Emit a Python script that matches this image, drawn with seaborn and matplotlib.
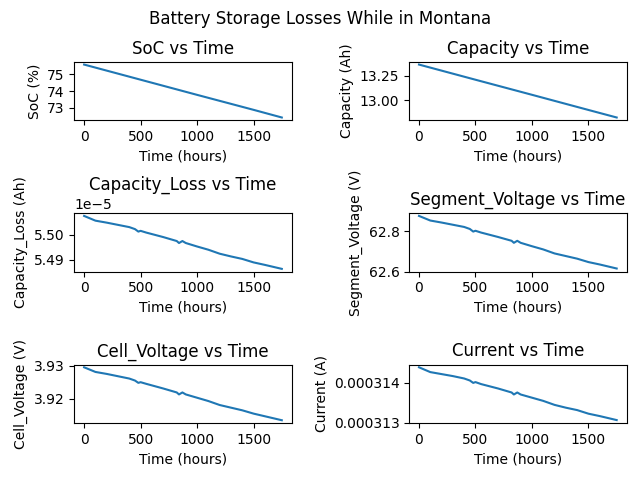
import matplotlib
matplotlib.use("Agg")
import matplotlib.pyplot as plt
import seaborn as sns
import pandas as pd

# Time points (hours)
hours = [0, 100, 200, 300, 400, 450, 480, 500, 550, 700, 820, 840, 870, 900,
         1000, 1100, 1200, 1300, 1400, 1500, 1600, 1750]

# SoC and capacity fall in straight lines, so a coarse grid is enough
linear_hours = [0, 500, 1000, 1500, 1750]
soc = [75.59, 74.68, 73.77, 72.87, 72.41]
capacity = [13.363, 13.208, 13.054, 12.899, 12.822]

capacity_loss = [5.5076e-5, 5.5057e-5, 5.5049e-5, 5.5040e-5, 5.5031e-5, 5.5023e-5,
                 5.5013e-5, 5.5016e-5, 5.5009e-5, 5.4991e-5, 5.4975e-5, 5.4967e-5,
                 5.4975e-5, 5.4967e-5, 5.4953e-5, 5.4940e-5, 5.4924e-5, 5.4913e-5,
                 5.4903e-5, 5.4889e-5, 5.4879e-5, 5.4863e-5]
segment_voltage = [62.877, 62.854, 62.844, 62.833, 62.822, 62.812, 62.799, 62.803,
                   62.794, 62.772, 62.753, 62.743, 62.753, 62.743, 62.726, 62.710,
                   62.690, 62.677, 62.664, 62.647, 62.635, 62.615]
cell_voltage = [3.9295, 3.9281, 3.9275, 3.9268, 3.9261, 3.9255, 3.9248, 3.9250,
                3.9245, 3.9231, 3.9219, 3.9213, 3.9219, 3.9213, 3.9203, 3.9193,
                3.9181, 3.9173, 3.9165, 3.9155, 3.9147, 3.9135]
current = [0.00031439, 0.00031427, 0.00031422, 0.00031417, 0.00031411, 0.00031406,
           0.00031400, 0.00031402, 0.00031397, 0.00031386, 0.00031376, 0.00031371,
           0.00031376, 0.00031371, 0.00031363, 0.00031355, 0.00031345, 0.00031338,
           0.00031332, 0.00031323, 0.00031317, 0.00031307]

# y tick values shown in the reference
soc_ticks = [73, 74, 75]
capacity_ticks = [13.00, 13.25]
loss_ticks = [5.49e-5, 5.50e-5]
segment_ticks = [62.6, 62.8]
cell_ticks = [3.92, 3.93]
current_ticks = [0.000313, 0.000314]

panels = [
    ("SoC", "SoC (%)", linear_hours, soc, soc_ticks),
    ("Capacity", "Capacity (Ah)", linear_hours, capacity, capacity_ticks),
    ("Capacity_Loss", "Capacity_Loss (Ah)", hours, capacity_loss, loss_ticks),
    ("Segment_Voltage", "Segment_Voltage (V)", hours, segment_voltage, segment_ticks),
    ("Cell_Voltage", "Cell_Voltage (V)", hours, cell_voltage, cell_ticks),
    ("Current", "Current (A)", hours, current, current_ticks),
]

fig, axes = plt.subplots(3, 2, figsize=(6.4, 4.8), dpi=100)

for ax, (name, ylabel, t, vals, ticks) in zip(axes.flat, panels):
    df = pd.DataFrame({"Time": t, name: vals})
    sns.lineplot(data=df, x="Time", y=name, ax=ax, color="#1f77b4")
    ax.set_yticks(ticks)
    ax.set_title(f"{name} vs Time")
    ax.set_xlabel("Time (hours)")
    ax.set_ylabel(ylabel)

fig.suptitle("Battery Storage Losses While in Montana")
fig.subplots_adjust(left=0.116, right=0.979, top=0.871, bottom=0.119,
                    wspace=0.54, hspace=1.6)
plt.savefig("out.png")
